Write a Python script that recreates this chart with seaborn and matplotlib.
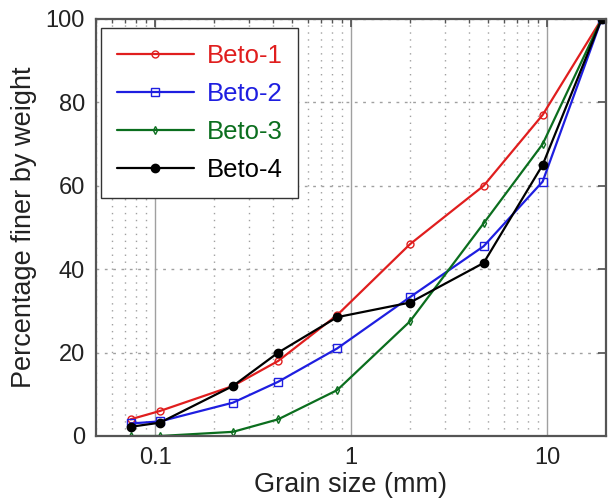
import matplotlib
matplotlib.use("Agg")

import pandas as pd
import matplotlib.pyplot as plt
import seaborn as sns
from matplotlib.ticker import LogLocator, FixedLocator, NullFormatter

# sieve sizes (mm) and percentage passing for each mix
grain_size = [0.075, 0.106, 0.25, 0.425, 0.85, 2.0, 4.75, 9.5, 19.0]
beto_1 = [4.0, 6.0, 12.0, 18.0, 29.0, 46.0, 60.0, 77.0, 100.0]
beto_2 = [3.0, 3.5, 8.0, 13.0, 21.0, 33.3, 45.5, 61.0, 100.0]
beto_3 = [0.0, 0.0, 1.0, 4.0, 11.0, 27.5, 51.0, 70.0, 100.0]
beto_4 = [2.2, 3.2, 12.0, 20.0, 28.5, 32.0, 41.5, 65.0, 100.0]

series_names = ["Beto-1", "Beto-2", "Beto-3", "Beto-4"]
x_ticks = [0.1, 1, 10]
x_tick_labels = ["0.1", "1", "10"]
y_ticks = [0, 20, 40, 60, 80, 100]

sns.set_theme(style="white")
plt.rcParams["font.family"] = ["Liberation Sans", "DejaVu Sans"]

styles = {
    "Beto-1": dict(color="#e01e1e", marker="o", markerfacecolor="none",
                   markeredgecolor="#e01e1e", markersize=5),
    "Beto-2": dict(color="#1e1ee0", marker="s", markerfacecolor="none",
                   markeredgecolor="#1e1ee0", markersize=6),
    "Beto-3": dict(color="#0b6e1e", marker="d", markerfacecolor="none",
                   markeredgecolor="#0b6e1e", markersize=4),
    "Beto-4": dict(color="black", marker="o", markerfacecolor="black",
                   markeredgecolor="black", markersize=6),
}

fig = plt.figure(figsize=(6.08, 5.03), dpi=100)
ax = fig.add_axes([96 / 608, 67 / 503, 510 / 608, 417 / 503])

for name, vals in zip(series_names, [beto_1, beto_2, beto_3, beto_4]):
    df = pd.DataFrame({"size": grain_size, "pct": vals})
    sns.lineplot(data=df, x="size", y="pct", ax=ax, label=name,
                 linewidth=1.6, markeredgewidth=1.0, **styles[name])

ax.set_xscale("log")
ax.set_xlim(0.05, 20)
ax.set_ylim(0, 100)

# grid: solid decades, dotted minor, dashed horizontal
for xv in x_ticks:
    ax.axvline(xv, color="#a0a0a0", lw=1.0, zorder=0)
ax.xaxis.set_minor_locator(LogLocator(base=10, subs=range(2, 10)))
ax.xaxis.set_minor_formatter(NullFormatter())
ax.grid(True, which="minor", axis="x", color="#a0a0a0", linestyle=(0, (1, 4)), lw=1.0)
ax.yaxis.set_major_locator(FixedLocator(y_ticks))
ax.grid(True, which="major", axis="y", color="#a0a0a0", linestyle=(0, (2, 4)), lw=1.0)
ax.set_axisbelow(True)

ax.set_xticks(x_ticks)
ax.set_xticklabels(x_tick_labels)
ax.set_yticks(y_ticks)

ax.tick_params(which="both", direction="in", top=True, right=True,
               labelsize=17, colors="#222222", pad=8)
ax.tick_params(which="major", length=6, color="#555555")
ax.tick_params(which="minor", length=3, color="#555555")

for sp in ax.spines.values():
    sp.set_color("#555555")
    sp.set_linewidth(1.6)

ax.set_xlabel("Grain size (mm)", fontsize=19.5, color="#222222", labelpad=2)
ax.set_ylabel("Percentage finer by weight", fontsize=19.5, color="#222222", labelpad=6)

leg = ax.legend(loc="upper left", fontsize=18.5, frameon=True, fancybox=False,
                handlelength=3.0, handletextpad=0.5, borderpad=0.6,
                labelspacing=0.55, borderaxespad=0.2,
                bbox_to_anchor=(0.0, 0.99))
leg.get_frame().set_edgecolor("#333333")
leg.get_frame().set_linewidth(1.0)
leg.get_frame().set_alpha(1.0)
for text, name in zip(leg.get_texts(), series_names):
    text.set_color(styles[name]["color"])

fig.savefig("out.png", dpi=100)
